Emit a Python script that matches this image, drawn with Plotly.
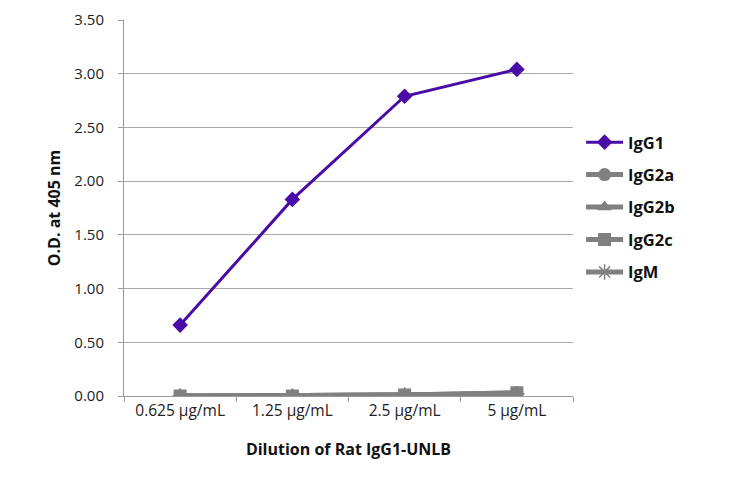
import plotly.graph_objects as go

categories = ["0.625 μg/mL", "1.25 μg/mL", "2.5 μg/mL", "5 μg/mL"]
igg1 = [0.66, 1.83, 2.79, 3.04]
igg2a = [0.00, 0.00, 0.01, 0.03]
igg2b = [0.00, 0.00, 0.01, 0.02]
igg2c = [0.00, 0.00, 0.01, 0.03]
igm = [0.00, 0.00, 0.01, 0.02]
y_ticks = [0, 0.5, 1.0, 1.5, 2.0, 2.5, 3.0, 3.5]

purple = "#4a0ca6"
gray = "#808080"
font_family = "Open Sans, Noto Sans, sans-serif"

fig = go.Figure()
series = [
    ("IgG2a", igg2a, gray, "circle", 5, 13, 2),
    ("IgG2b", igg2b, gray, "triangle-up", 5, 13, 3),
    ("IgG2c", igg2c, gray, "square", 5, 13, 4),
    ("IgM", igm, gray, "asterisk", 5, 13, 5),
    ("IgG1", igg1, purple, "diamond", 3, 12, 1),
]
for name, vals, col, sym, lw, ms, rank in series:
    fig.add_trace(go.Scatter(
        x=categories, y=vals, name=name, mode="lines+markers",
        legendgroup=name, legendrank=rank,
        line=dict(color=col, width=lw),
        marker=dict(symbol=sym, size=ms, color=col,
                    line=dict(color=col, width=1.5 if sym == "asterisk" else 0)),
    ))

fig.update_layout(
    width=730, height=478,
    margin=dict(l=116, r=165, t=12, b=90, autoexpand=False),
    paper_bgcolor="white", plot_bgcolor="white",
    font=dict(family=font_family, size=15, color="#222"),
    showlegend=True,
    legend=dict(x=1.018, y=0.721, xanchor="left", yanchor="top",
                font=dict(size=16.5, color="#111", family=font_family, weight="bold"),
                tracegroupgap=8, itemwidth=37, traceorder="grouped",
                bgcolor="rgba(0,0,0,0)"),
)
fig.update_xaxes(
    type="category", range=[-0.5, 3.5], automargin=False,
    showline=True, linecolor="#999", linewidth=1,
    ticks="outside", tickson="boundaries", ticklen=5, tickcolor="#999",
    showgrid=False,
    tickfont=dict(size=15.5, color="#222"),
    title=dict(text="<b>Dilution of Rat IgG1-UNLB</b>", font=dict(size=16, color="#111"), standoff=24),
)
fig.update_yaxes(
    range=[0, 3.5], tickvals=y_ticks, tickformat=".2f", automargin=False,
    showline=True, linecolor="#999", linewidth=1,
    ticks="outside", ticklen=5, tickcolor="#999", ticklabelstandoff=11,
    showgrid=True, gridcolor="#aaa", gridwidth=1,
    zeroline=False,
    tickfont=dict(size=15, color="#222"),
    title=dict(text="<b>O.D. at 405 nm</b>", font=dict(size=16, color="#111"), standoff=9),
)

fig.write_html("out.html")
